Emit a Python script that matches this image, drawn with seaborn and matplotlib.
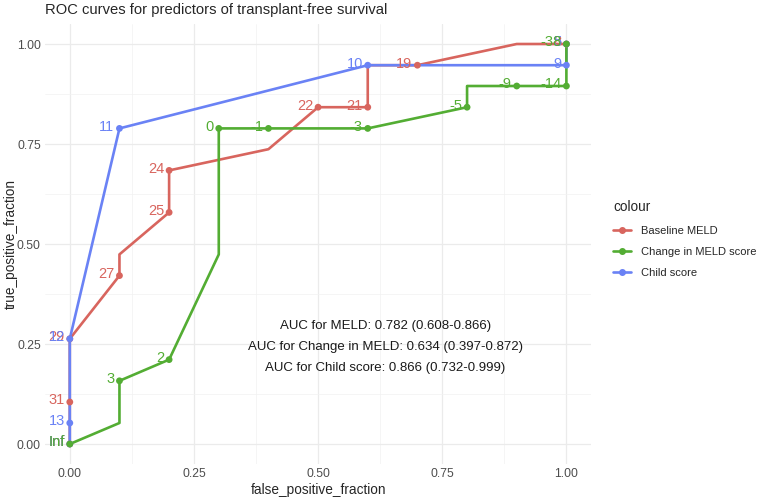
import pandas as pd
import seaborn as sns
import matplotlib.pyplot as plt
from matplotlib.lines import Line2D

sns.set_theme(style="whitegrid")
plt.rcParams['font.family'] = ['Liberation Sans', 'DejaVu Sans']

# ROC paths (false positive fraction, true positive fraction, cutoff label or '')
meld_fpf = [0.0, 0.0, 0.0, 0.1, 0.1, 0.2, 0.2, 0.4, 0.5, 0.6, 0.6, 0.7, 0.9, 1.0]
meld_tpf = [0.0, 0.105, 0.263, 0.421, 0.474, 0.579, 0.684, 0.737, 0.842, 0.842, 0.947, 0.947, 1.0, 1.0]
meld_cut = ['Inf', '31', '29', '27', '', '25', '24', '', '22', '21', '', '19', '', '8']

change_fpf = [0.0, 0.1, 0.1, 0.2, 0.3, 0.3, 0.4, 0.6, 0.8, 0.8, 0.9, 1.0, 1.0]
change_tpf = [0.0, 0.0526, 0.158, 0.211, 0.474, 0.789, 0.789, 0.789, 0.842, 0.895, 0.895, 0.895, 1.0]
change_cut = ['Inf', '', '3', '2', '', '0', '-1', '-3', '-5', '', '-9', '-14', '-38']

child_fpf = [0.0, 0.0, 0.0, 0.1, 0.6, 1.0, 1.0]
child_tpf = [0.0, 0.0526, 0.263, 0.789, 0.947, 0.947, 1.0]
child_cut = ['Inf', '13', '12', '11', '10', '9', '5']

names = ['Baseline MELD', 'Change in MELD score', 'Child score']
colors = ['#D8655E', '#53AD33', '#6A82F5']
auc_text = ['AUC for MELD: 0.782 (0.608-0.866)',
            'AUC for Change in MELD: 0.634 (0.397-0.872)',
            'AUC for Child score: 0.866 (0.732-0.999)']

frames = []
for name, f, t, c in zip(names, [meld_fpf, change_fpf, child_fpf],
                         [meld_tpf, change_tpf, child_tpf],
                         [meld_cut, change_cut, child_cut]):
    frames.append(pd.DataFrame({'fpf': f, 'tpf': t, 'cut': c, 'colour': name}))

# drawing order: red, blue, green (green ends up on top like the reference)
draw_order = ['Baseline MELD', 'Child score', 'Change in MELD score']
df = pd.concat([frames[names.index(n)] for n in draw_order], ignore_index=True)

pal = dict(zip(names, colors))

fig = plt.figure(figsize=(7.57, 4.99), dpi=100)
ax = fig.add_axes([0.0594, 0.0701, 0.7216, 0.8818])

for n in draw_order:
    sub = df[df['colour'] == n]
    sns.lineplot(data=sub, x='fpf', y='tpf', color=pal[n], sort=False,
                 estimator=None, lw=1.9, legend=False, ax=ax)
for n in draw_order:
    sub = df[(df['colour'] == n) & (df['cut'] != '')]
    sns.scatterplot(data=sub, x='fpf', y='tpf', color=pal[n], s=24,
                    edgecolor='none', legend=False, ax=ax, zorder=3)

pts = df[df['cut'] != '']
for _, r in pts.iterrows():
    ax.text(r['fpf'] - 0.01, r['tpf'] + 0.004, r['cut'], color=pal[r['colour']],
            ha='right', va='center', fontsize=10.5, zorder=4)

for i, s in enumerate(auc_text):
    ax.text(0.635, 0.295 - i * 0.0525, s, ha='center', va='center', fontsize=9.5,
            color='#1a1a1a')

ax.set_xlim(-0.05, 1.05)
ax.set_ylim(-0.05, 1.05)
ax.set_xticks([0, 0.25, 0.5, 0.75, 1.0])
ax.set_yticks([0, 0.25, 0.5, 0.75, 1.0])
ax.set_xticklabels(['0.00', '0.25', '0.50', '0.75', '1.00'])
ax.set_yticklabels(['0.00', '0.25', '0.50', '0.75', '1.00'])
ax.set_xticks([0.125, 0.375, 0.625, 0.875], minor=True)
ax.set_yticks([0.125, 0.375, 0.625, 0.875], minor=True)
ax.set_facecolor('white')
ax.grid(True, which='major', color='#EBEBEB', lw=0.9)
ax.grid(True, which='minor', color='#F2F2F2', lw=0.5)
for sp in ax.spines.values():
    sp.set_visible(False)
ax.tick_params(axis='both', which='both', length=0, labelsize=8.8,
               labelcolor='#4D4D4D', pad=3)
ax.set_xlabel('false_positive_fraction', fontsize=9.8, labelpad=2)
ax.set_ylabel('true_positive_fraction', fontsize=9.8)
ax.yaxis.set_label_coords(-0.049, 0.5)
ax.set_title('ROC curves for predictors of transplant-free survival',
             loc='left', fontsize=10.6, pad=7)

handles = [Line2D([0], [0], color=c, lw=1.9, marker='o', markersize=4) for c in colors]
leg = fig.legend(handles, names, title='colour', loc='upper left',
                 bbox_to_anchor=(0.797, 0.62), frameon=False, fontsize=8,
                 title_fontsize=9.8, handlelength=1.6, labelspacing=1.0,
                 handletextpad=0.9, alignment='left')
leg._legend_box.sep = 9

fig.savefig('out.png', dpi=100)
